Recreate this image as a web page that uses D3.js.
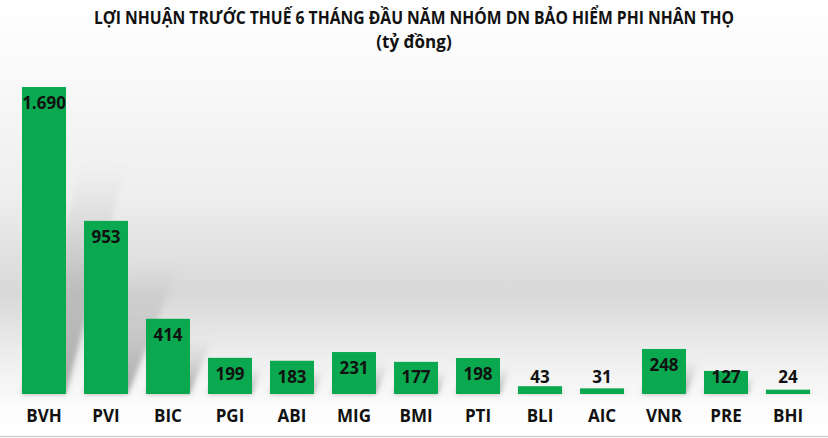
<!DOCTYPE html>
<html><head><meta charset="utf-8">
<script src="https://cdn.jsdelivr.net/npm/d3@7"></script>
<style>html,body{margin:0;padding:0;background:#fff;overflow:hidden}</style>
</head><body>
<svg id="c" width="828" height="438"></svg>
<script>
const categories = ["BVH","PVI","BIC","PGI","ABI","MIG","BMI","PTI","BLI","AIC","VNR","PRE","BHI"];
const values = [1690, 953, 414, 199, 183, 231, 177, 198, 43, 31, 248, 127, 24];
const valueLabels = ["1.690","953","414","199","183","231","177","198","43","31","248","127","24"];
const titleLines = ["LỢI NHUẬN TRƯỚC THUẾ 6 THÁNG ĐẦU NĂM NHÓM DN BẢO HIỂM PHI NHÂN THỌ", "(tỷ đồng)"];

const W = 828, H = 438;
const svg = d3.select("#c");
const defs = svg.append("defs");
const bg = defs.append("linearGradient").attr("id","bg").attr("x1",0).attr("y1",0).attr("x2",0).attr("y2",1);
[[0,"#ffffff"],[0.15,"#fafafa"],[0.45,"#eeeeee"],[0.67,"#d8d8d8"],[0.8,"#ececec"],[0.94,"#fdfdfd"],[1,"#ffffff"]]
  .forEach(([o,c])=>bg.append("stop").attr("offset",o).attr("stop-color",c));
const sg = defs.append("linearGradient").attr("id","sg").attr("x1",0).attr("y1",1).attr("x2",0).attr("y2",0);
sg.append("stop").attr("offset",0).attr("stop-color","#666").attr("stop-opacity",0.55);
sg.append("stop").attr("offset",1).attr("stop-color","#999").attr("stop-opacity",0);
defs.append("filter").attr("id","blur").attr("x","-20%").attr("y","-20%").attr("width","140%").attr("height","140%")
  .append("feGaussianBlur").attr("stdDeviation",2.5);

svg.append("rect").attr("width",W).attr("height",H).attr("fill","url(#bg)");
svg.append("line").attr("x1",0).attr("x2",W).attr("y1",436.5).attr("y2",436.5).attr("stroke","#d0d0d0").attr("stroke-width",1.5);

const font = "'Open Sans',sans-serif";
const base = 394;
const x = d3.scaleBand().domain(categories).range([13, 819]).paddingInner(0.29).paddingOuter(0.145);
const y = d3.scaleLinear().domain([0, 1690]).range([base, 87]);

// title
svg.append("text").attr("x", 414).attr("y", 24).attr("text-anchor","middle")
  .attr("font-family", font).attr("font-weight","bold").attr("font-size",17).attr("fill","#111")
  .attr("textLength",640).attr("lengthAdjust","spacingAndGlyphs").text(titleLines[0]);
svg.append("text").attr("x", 414).attr("y", 48).attr("text-anchor","middle")
  .attr("font-family", font).attr("font-weight","bold").attr("font-size",17).attr("fill","#111").text(titleLines[1]);

const data = categories.map((c,i)=>({c, v: values[i], l: valueLabels[i]}));

// shadows
svg.append("g").selectAll("path").data(data).join("path")
  .attr("d", d => {
    const x0 = x(d.c), x1 = x0 + x.bandwidth(), h = base - y(d.v);
    const dx = Math.min(h*0.3, 60), sh = h*0.75;
    return `M${x0},${base} L${x1},${base} L${x1+dx},${base-sh} L${x0+dx},${base-sh} Z`;
  })
  .attr("fill","url(#sg)").attr("filter","url(#blur)");

// bars
svg.append("g").selectAll("rect").data(data).join("rect")
  .attr("x", d => x(d.c)).attr("width", x.bandwidth())
  .attr("y", d => y(d.v)).attr("height", d => base - y(d.v))
  .attr("fill","#0aa94f");

// value labels
svg.append("g").selectAll("text").data(data).join("text")
  .attr("x", d => x(d.c) + x.bandwidth()/2)
  .attr("y", d => Math.min(y(d.v) + 16, base - 17))
  .attr("dy","0.36em").attr("text-anchor","middle")
  .attr("font-family", font).attr("font-weight","bold").attr("font-size",17).attr("fill","#111")
  .text(d => d.l);

// category axis
const ax = svg.append("g").attr("transform",`translate(0,${base})`)
  .call(d3.axisBottom(x).tickSize(0).tickPadding(16));
ax.select(".domain").remove();
ax.selectAll("text").attr("font-family", font).attr("font-weight","bold").attr("font-size",17).attr("fill","#111");
</script>
</body></html>
